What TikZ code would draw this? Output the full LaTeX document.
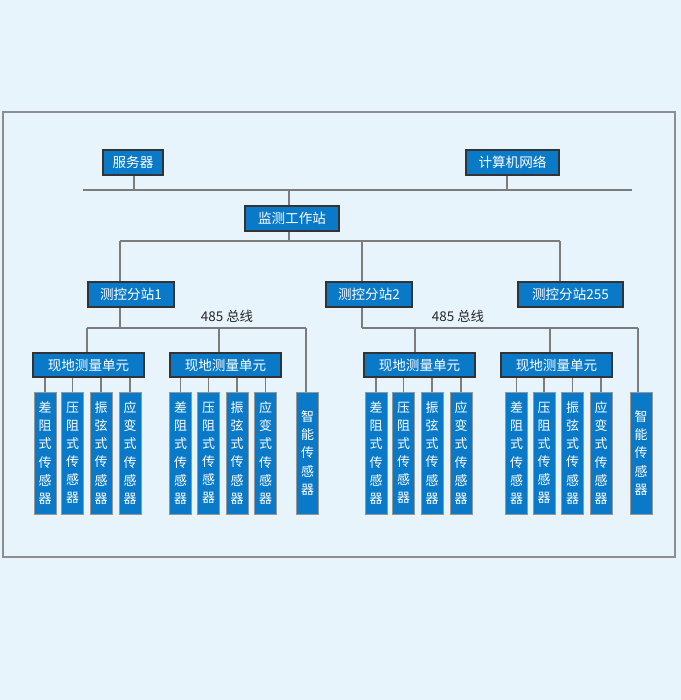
\documentclass[tikz,border=0pt]{standalone}
\usepackage{fontspec}
\newfontfamily\cjk{Noto Sans CJK SC}
\definecolor{bgc}{HTML}{E8F4FC}
\definecolor{boxblue}{HTML}{0A7AC8}
\definecolor{framec}{HTML}{8E8E8E}
\definecolor{linec}{HTML}{7C7C7C}
\definecolor{darkb}{HTML}{333333}
\tikzset{
  topbox/.style={draw=darkb, line width=1.3bp, fill=boxblue, text=white, inner sep=0pt,
    minimum height=25bp, font=\cjk\fontsize{13.6}{15}\selectfont},
  unitbox/.style={topbox, minimum height=24bp, minimum width=111bp},
  sensor/.style={draw=linec!80, line width=1bp, fill=boxblue, text=white, inner sep=0pt,
    minimum width=22bp, minimum height=122bp, align=center,
    font=\cjk\fontsize{13}{18.2}\selectfont},
  conn/.style={draw=linec, line width=1.1bp},
  buslabel/.style={font=\cjk\fontsize{13.5}{15}\selectfont, text=black!85, inner sep=0pt}
}
\begin{document}
\begin{tikzpicture}[x=1bp,y=-1bp]
\useasboundingbox[fill=bgc] (0,0) rectangle (681,700);
\draw[framec, line width=1.4bp] (3,112) rectangle (675,557);

% top level
\node[topbox, minimum width=60bp] (srv) at (133,162.5) {服务器};
\node[topbox, minimum width=93bp] (net) at (512.5,162.5) {计算机网络};
\coordinate (busAL) at (83,190);
\coordinate (busAR) at (632,190);
\draw[conn] (busAL) -- (busAR);
\coordinate (tsrv) at (134,190);
\coordinate (tnet) at (507,190);
\draw[conn] (tsrv |- srv.south) -- (tsrv);
\draw[conn] (tnet |- net.south) -- (tnet);

\node[topbox, minimum width=94bp] (ws) at (292,218.5) {监测工作站};
\coordinate (tws) at (289,190);
\draw[conn] (tws) -- (tws |- ws.north);
\coordinate (bws) at (289,241);
\draw[conn] (bws |- ws.south) -- (bws);

% stations
\node[topbox, minimum width=86bp] (s1) at (131,294.5) {测控分站1};
\node[topbox, minimum width=86bp] (s2) at (369,294.5) {测控分站2};
\node[topbox, minimum width=105bp] (s3) at (570.5,294.5) {测控分站255};
\coordinate (b1) at (120,241);
\coordinate (b2) at (362,241);
\coordinate (b3) at (560,241);
\draw[conn] (b1) -- (b3);
\draw[conn] (b1) -- (b1 |- s1.north);
\draw[conn] (b2) -- (b2 |- s2.north);
\draw[conn] (b3) -- (b3 |- s3.north);

% 485 buses
\coordinate (l1) at (120,328);
\coordinate (l2) at (362,328);
\draw[conn] (l1 |- s1.south) -- (l1);
\draw[conn] (l2 |- s2.south) -- (l2);
\coordinate (bl1) at (87,328);
\coordinate (br1) at (306,328);
\coordinate (bl2) at (415,328);
\coordinate (bm2) at (550,328);
\coordinate (br2) at (638,328);
\coordinate (bm1) at (219,328);
\draw[conn] (bl1) -- (br1);
\draw[conn] (l2) -- (br2);
\node[buslabel] (lab1) at (227,316) {485 总线};
\node[buslabel] (lab2) at (458,316) {485 总线};

% units
\node[unitbox] (u1) at (88.5,365) {现地测量单元};
\node[unitbox] (u2) at (225.5,365) {现地测量单元};
\node[unitbox] (u3) at (419.5,365) {现地测量单元};
\node[unitbox] (u4) at (556.5,365) {现地测量单元};
\draw[conn] (bl1) -- (bl1 |- u1.north);
\draw[conn] (bm1) -- (bm1 |- u2.north);
\draw[conn] (bl2) -- (bl2 |- u3.north);
\draw[conn] (bm2) -- (bm2 |- u4.north);

% sensors
\foreach \u/\n/\xa/\xb/\xc/\xd in {u1/1/45/72.5/101/130, u2/2/180.5/208.5/237/265.5, u3/3/376/403.5/432/461, u4/4/516.5/544/572.5/601}{
  \node[sensor] (a\n) at (\xa,453) {差\\阻\\式\\传\\感\\器};
  \node[sensor] (b\n) at (\xb,453) {压\\阻\\式\\传\\感\\器};
  \node[sensor] (c\n) at (\xc,453) {振\\弦\\式\\传\\感\\器};
  \node[sensor] (d\n) at (\xd,453) {应\\变\\式\\传\\感\\器};
  \draw[conn] (a\n.north) -- (a\n.north |- \u.south);
  \draw[conn] (b\n.north) -- (b\n.north |- \u.south);
  \draw[conn] (c\n.north) -- (c\n.north |- \u.south);
  \draw[conn] (d\n.north) -- (d\n.north |- \u.south);
}
\node[sensor] (sm1) at (307.5,453) {智\\能\\传\\感\\器};
\node[sensor] (sm2) at (641,453) {智\\能\\传\\感\\器};
\draw[conn] (br1) -- (br1 |- sm1.north);
\draw[conn] (br2) -- (br2 |- sm2.north);
\end{tikzpicture}
\end{document}
